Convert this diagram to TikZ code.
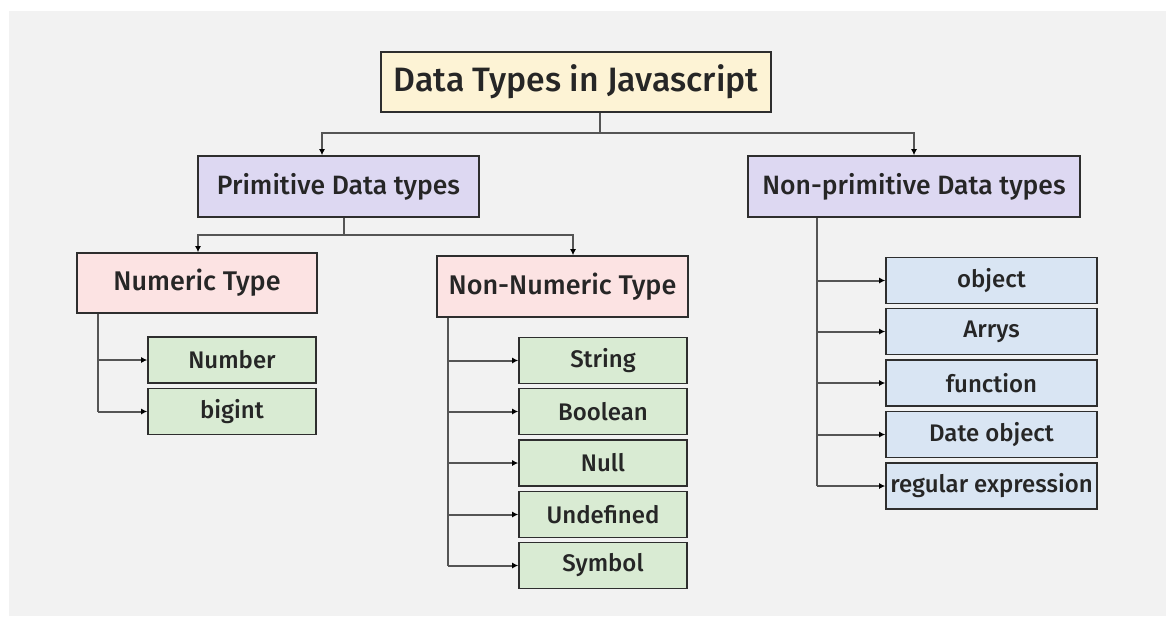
\documentclass[tikz,border=0pt]{standalone}
\usepackage{fontspec}
\setmainfont{Fira Sans}[UprightFont={* Medium}]
\usetikzlibrary{arrows.meta}
\definecolor{bgpanel}{HTML}{F2F2F2}
\definecolor{titlefill}{HTML}{FDF3D5}
\definecolor{groupfill}{HTML}{DDD8F2}
\definecolor{kindfill}{HTML}{FCE3E3}
\definecolor{leaffill}{HTML}{D9EBD3}
\definecolor{objfill}{HTML}{D9E5F3}
\definecolor{wire}{HTML}{555555}
\definecolor{edge}{HTML}{2E2E2E}
\tikzset{
  box/.style={draw=edge, line width=1.6pt, inner sep=0pt, anchor=center, text=black!85},
  titlebox/.style={box, fill=titlefill, font=\fontsize{33.8}{38}\selectfont},
  groupbox/.style={box, fill=groupfill, font=\fontsize{26.5}{30}\selectfont},
  kindbox/.style={box, fill=kindfill, font=\fontsize{27}{31}\selectfont},
  leafbox/.style={box, fill=leaffill, font=\fontsize{24}{28}\selectfont},
  objbox/.style={box, fill=objfill, font=\fontsize{24}{28}\selectfont},
  wirel/.style={draw=wire, line width=2pt},
  arr/.style={wirel, -{Latex[length=6pt,width=6pt,black]}},
}
\begin{document}
\begin{tikzpicture}[x=1pt,y=-1pt]
\useasboundingbox (0,0) rectangle (1166,616);
\fill[white] (0,0) rectangle (1166,616);
\fill[bgpanel] (9,11) rectangle (1166,616);

% root
\node[titlebox, minimum width=390pt, minimum height=60pt] (root) at (576,82) {Data Types in Javascript};

% second level
\node[groupbox, minimum width=281pt, minimum height=61pt] (prim) at (338.5,186.5) {Primitive Data types};
\node[groupbox, minimum width=332pt, minimum height=61pt] (nonprim) at (914,186.5) {Non-primitive Data types};

% third level
\node[kindbox, minimum width=240pt, minimum height=60pt] (num) at (197,283) {Numeric Type};
\node[kindbox, minimum width=251pt, minimum height=61pt] (nonnum) at (562.5,286.5) {Non-Numeric Type};

% numeric leaves
\node[leafbox, minimum width=168pt, minimum height=46pt] (number) at (232,360) {Number};
\node[leafbox, minimum width=168pt, minimum height=46pt] (bigint) at (232,411.5) {bigint};

% non-numeric leaves
\node[leafbox, minimum width=168pt, minimum height=46pt] (string) at (603,360.5) {String};
\node[leafbox, minimum width=168pt, minimum height=46pt] (boolean) at (603,411.5) {Boolean};
\node[leafbox, minimum width=168pt, minimum height=46pt] (null) at (603,463) {Null};
\node[leafbox, minimum width=168pt, minimum height=46pt] (undef) at (603,514.5) {Undefined};
\node[leafbox, minimum width=168pt, minimum height=46pt] (symbol) at (603,565.5) {Symbol};

% non-primitive leaves
\node[objbox, minimum width=211pt, minimum height=46pt] (object) at (991.5,280.5) {object};
\node[objbox, minimum width=211pt, minimum height=46pt] (arrays) at (991.5,331.5) {Arrys};
\node[objbox, minimum width=211pt, minimum height=46pt] (func) at (991.5,383) {function};
\node[objbox, minimum width=211pt, minimum height=46pt] (date) at (991.5,434.5) {Date object};
\node[objbox, minimum width=211pt, minimum height=46pt] (regex) at (991.5,486) {regular expression};

% root -> second level
\coordinate (rj) at (600,133);
\draw[wirel] (root.south -| rj) -- (rj);
\draw[arr] (rj) -| ([xshift=-16.5pt]prim.north);
\draw[arr] (rj) -| (nonprim.north);

% primitive -> kinds
\coordinate (pj) at (344,235);
\draw[wirel] (prim.south -| pj) -- (pj);
\draw[arr] (pj) -| (num.north -| 198,0);
\draw[arr] (pj) -| (nonnum.north -| 573,0);

% numeric -> leaves
\coordinate (nx) at (98,0);
\draw[wirel] (num.south -| nx) -- (bigint.west -| nx);
\draw[arr] (number.west -| nx) -- (number.west);
\draw[arr] (bigint.west -| nx) -- (bigint.west);

% non-numeric -> leaves
\coordinate (mx) at (448,0);
\draw[wirel] (nonnum.south -| mx) -- (symbol.west -| mx);
\foreach \leaf in {string,boolean,null,undef,symbol}
  \draw[arr] (\leaf.west -| mx) -- (\leaf.west);

% non-primitive -> leaves
\coordinate (ox) at (817,0);
\draw[wirel] (nonprim.south -| ox) -- (regex.west -| ox);
\foreach \leaf in {object,arrays,func,date,regex}
  \draw[arr] (\leaf.west -| ox) -- (\leaf.west);
\end{tikzpicture}
\end{document}
